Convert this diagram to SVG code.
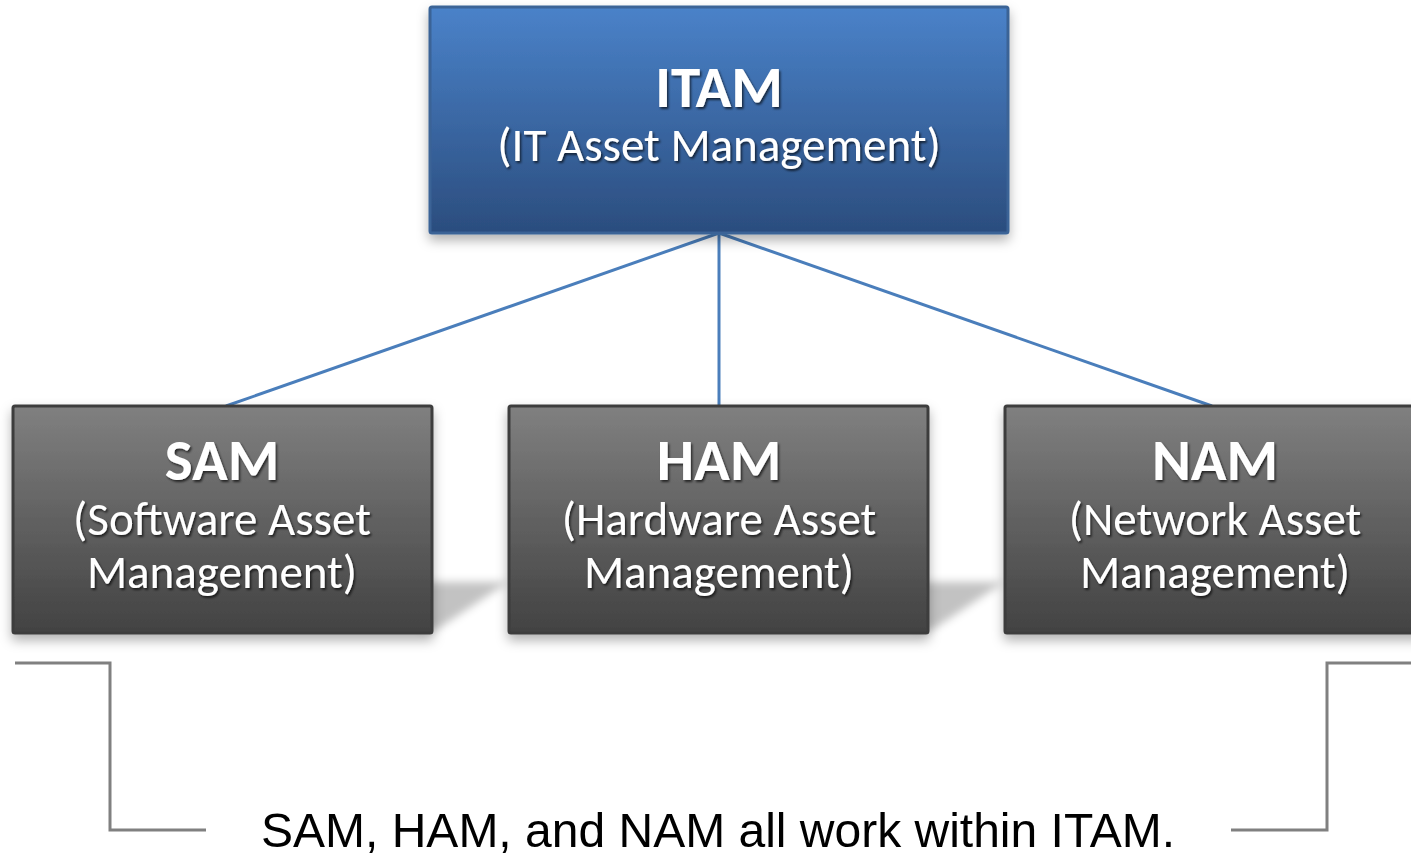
<svg xmlns="http://www.w3.org/2000/svg" width="1411" height="855" viewBox="0 0 1411 855">
<defs>
<linearGradient id="gBlue" x1="0" y1="0" x2="0" y2="1">
<stop offset="0" stop-color="#4a82c9"/>
<stop offset="1" stop-color="#2b4d7e"/>
</linearGradient>
<linearGradient id="gGray" x1="0" y1="0" x2="0" y2="1">
<stop offset="0" stop-color="#808080"/>
<stop offset="1" stop-color="#424242"/>
</linearGradient>
<filter id="txtShadow" x="-10%" y="-20%" width="130%" height="150%">
<feDropShadow dx="1.5" dy="2" stdDeviation="1.2" flood-color="#000" flood-opacity="0.65"/>
</filter>
<filter id="boxShadow" x="-10%" y="-10%" width="120%" height="130%">
<feDropShadow dx="0" dy="6" stdDeviation="6" flood-color="#000" flood-opacity="0.3"/>
</filter>
<filter id="blur6" x="-30%" y="-30%" width="160%" height="160%">
<feGaussianBlur stdDeviation="4"/>
</filter>
<style>
.blue{fill:url(#gBlue);stroke:#3a6396;stroke-width:3}
.gray{fill:url(#gGray);stroke:#3c3c3c;stroke-width:3}
.title{font-family:Carlito,Lato,"Open Sans",sans-serif;font-weight:bold;fill:#fff;text-anchor:middle;font-size:59px}
.sub{font-family:Carlito,Lato,"Open Sans",sans-serif;fill:#fff;text-anchor:middle;font-size:47px}
.conn{stroke:#4a7ebb;stroke-width:3;fill:none}
.brk{stroke:#808080;stroke-width:3;fill:none}
.persp{fill:#000;opacity:0.24}
</style>
</defs>
<rect width="1411" height="855" fill="#fff"/>
<g id="shadows" filter="url(#blur6)">
<polygon class="persp" points="420,582 508,582 436,630 420,630"/>
<polygon class="persp" points="916,582 1004,582 932,630 916,630"/>
</g>
<g id="connectors">
<line class="conn" x1="719" y1="233" x2="226" y2="406"/>
<line class="conn" x1="719" y1="233" x2="719" y2="406"/>
<line class="conn" x1="719" y1="233" x2="1212" y2="406"/>
</g>
<g id="itam">
<rect class="blue" x="430" y="7" width="578" height="226" rx="2" filter="url(#boxShadow)"/>
<g filter="url(#txtShadow)">
<text class="title" x="719" y="107">ITAM</text>
<text class="sub" x="719" y="161">(IT Asset Management)</text>
</g>
</g>
<g id="sam">
<rect class="gray" x="13" y="406" width="419" height="227" rx="2" filter="url(#boxShadow)"/>
<g filter="url(#txtShadow)">
<text class="title" x="222" y="480">SAM</text>
<text class="sub" x="222" y="535">(Software Asset</text>
<text class="sub" x="222" y="588">Management)</text>
</g>
</g>
<g id="ham">
<rect class="gray" x="509" y="406" width="419" height="227" rx="2" filter="url(#boxShadow)"/>
<g filter="url(#txtShadow)">
<text class="title" x="719" y="480">HAM</text>
<text class="sub" x="719" y="535">(Hardware Asset</text>
<text class="sub" x="719" y="588">Management)</text>
</g>
</g>
<g id="nam">
<rect class="gray" x="1005" y="406" width="419" height="227" rx="2" filter="url(#boxShadow)"/>
<g filter="url(#txtShadow)">
<text class="title" x="1215" y="480">NAM</text>
<text class="sub" x="1215" y="535">(Network Asset</text>
<text class="sub" x="1215" y="588">Management)</text>
</g>
</g>
<g id="brackets">
<polyline class="brk" points="15,663 110,663 110,830 206,830"/>
<polyline class="brk" points="1411,663 1327,663 1327,830 1231,830"/>
</g>
<text x="718" y="847" font-family="Liberation Sans,Arial,sans-serif" font-size="48" fill="#000" text-anchor="middle">SAM, HAM, and NAM all work within ITAM.</text>
</svg>
